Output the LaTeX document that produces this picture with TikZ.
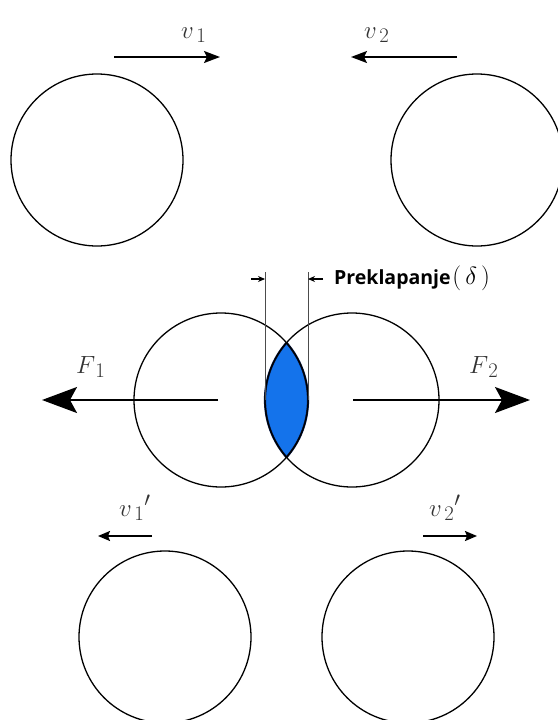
\documentclass[tikz,border=0pt]{standalone}
\usepackage{fontspec}
\newfontfamily\notefont{Open Sans}
\usetikzlibrary{arrows.meta}

\definecolor{lensblue}{RGB}{20,115,235}
\definecolor{lensedge}{RGB}{10,30,80}

\begin{document}
\begin{tikzpicture}[
        x=1pt, y=-1pt,
        ball/.style={
            draw,
            circle,
            line width=1.3pt,
            minimum size=172pt,
            inner sep=0pt,
            outer sep=0pt
        },
        hitball/.style={ball, minimum size=174pt},
        velarrow/.style={
            -{Stealth[length=16pt, width=12pt, inset=3pt]},
            line width=1.7pt
        },
        outarrow/.style={
            -{Stealth[length=12pt, width=10pt, inset=2pt]},
            line width=1.8pt
        },
        forcearrow/.style={
            -{Stealth[length=35pt, width=26pt, inset=7pt]},
            line width=1.6pt
        },
        dimline/.style={gray!60!black, line width=0.9pt},
        dimarrow/.style={
            -{Stealth[length=7pt, width=6pt]},
            line width=1.1pt
        },
        symbol/.style={
            anchor=base west,
            inner sep=0pt,
            font=\fontsize{29}{34}\selectfont,
            text=black!80
        }
    ]

    \useasboundingbox (0,0) rectangle (557,720);

    \coordinate (c1) at (221,400);
    \coordinate (c2) at (352,400);

    \begin{scope}
        \clip (c1) circle[radius=87pt];
        \filldraw[fill=lensblue, draw=lensedge, line width=2.2pt] (c2) circle[radius=87pt];
    \end{scope}
    \begin{scope}
        \clip (c2) circle[radius=87pt];
        \draw[draw=lensedge, line width=2.2pt] (c1) circle[radius=87pt];
    \end{scope}

    \node[ball] (ball1) at (97,160) {};
    \node[ball] (ball2) at (477,160) {};
    \node[hitball] (hit1) at (c1) {};
    \node[hitball] (hit2) at (c2) {};
    \node[ball] (out1) at (165,637) {};
    \node[ball] (out2) at (408,637) {};

    \coordinate (gapL) at ([yshift=121pt]hit2.west);
    \coordinate (gapR) at ([yshift=121pt]hit1.east);
    \draw[dimline] (hit2.west) -- ([yshift=7pt]gapL);
    \draw[dimline] (hit1.east) -- ([yshift=7pt]gapR);
    \draw[dimarrow] ([xshift=-14pt]gapL) -- (gapL);
    \draw[dimarrow] ([xshift=15pt]gapR) -- (gapR);
    \node[anchor=base west, inner sep=0pt] (overlap) at (334,284)
        {{\notefont\bfseries\fontsize{19.5}{22}\selectfont Preklapanje}\,{\fontsize{30}{34}\selectfont$(\,\delta\,)$}};

    \coordinate (v1s) at (114,57);
    \coordinate (v1e) at (220,57);
    \coordinate (v2s) at (457,57);
    \coordinate (v2e) at (351,57);
    \draw[velarrow] (v1s) -- (v1e);
    \draw[velarrow] (v2s) -- (v2e);
    \node[symbol] (v1lab) at (181,38) {$v_{\,1}$};
    \node[symbol] (v2lab) at (364,38) {$v_{\,2}$};

    \coordinate (f1s) at (218,400);
    \coordinate (f1e) at (42,400);
    \coordinate (f2s) at (353,400);
    \coordinate (f2e) at (530,400);
    \draw[forcearrow] (f1s) -- (f1e);
    \draw[forcearrow] (f2s) -- (f2e);
    \node[symbol] (f1lab) at (76,373) {$F_{\,1}$};
    \node[symbol] (f2lab) at (469,373) {$F_{\,2}$};

    \coordinate (u1s) at (152,536);
    \coordinate (u1e) at (98,536);
    \coordinate (u2s) at (423,536);
    \coordinate (u2e) at (477,536);
    \draw[outarrow] (u1s) -- (u1e);
    \draw[outarrow] (u2s) -- (u2e);
    \node[symbol] (u1lab) at (119,516) {$v_{\,1}{}'$};
    \node[symbol] (u2lab) at (429,516) {$v_{\,2}{}'$};

\end{tikzpicture}
\end{document}
